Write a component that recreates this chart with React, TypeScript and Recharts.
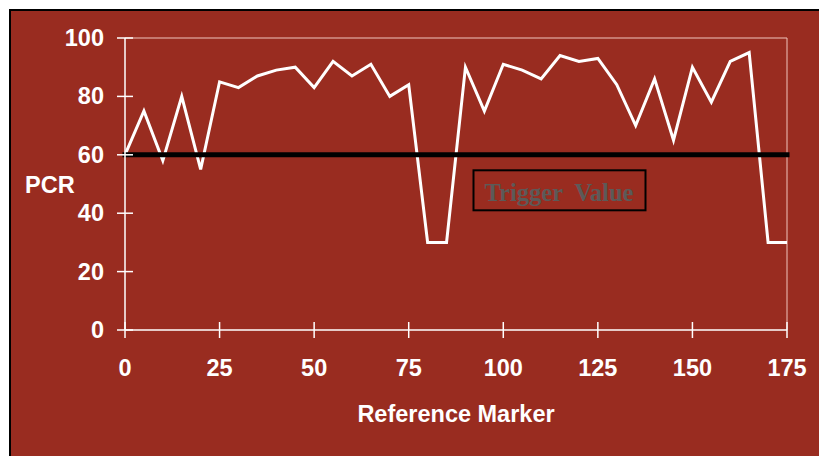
import { LineChart, Line, XAxis, YAxis, ReferenceLine } from "recharts"

// reference marker positions and the PCR reading at each
const markers = [
  0, 5, 10, 15, 20, 25, 30, 35, 40, 45, 50, 55, 60, 65, 70, 75, 80, 85,
  90, 95, 100, 105, 110, 115, 120, 125, 130, 135, 140, 145, 150, 155, 160,
  165, 170, 175,
]
const pcr = [
  60, 75, 58, 80, 55, 85, 83, 87, 89, 90, 83, 92, 87, 91, 80, 84, 30, 30,
  90, 75, 91, 89, 86, 94, 92, 93, 84, 70, 86, 65, 90, 78, 92, 95, 30, 30,
]
const xTicks = [0, 25, 50, 75, 100, 125, 150, 175]
const yTicks = [0, 20, 40, 60, 80, 100]
const triggerValue = 60

const data = markers.map((m, i) => ({ marker: m, pcr: pcr[i] }))

const BG = "#992c20"
const SANS = "'Liberation Sans', Arial, sans-serif"
const FRAME = "#f0c4bc"
const FONT_SIZE = 23.5

function XTick(props: any) {
  const { x, y, payload } = props
  return (
    <g>
      <line x1={x} y1={y - 8} x2={x} y2={y - 16} stroke="#fff" strokeWidth={1.5} />
      <text x={x} y={y + 38} textAnchor="middle" fill="#fff" fontFamily={SANS} fontWeight="bold" fontSize={FONT_SIZE}>
        {payload.value}
      </text>
    </g>
  )
}

function YTick(props: any) {
  const { x, y, payload } = props
  return (
    <g>
      <line x1={x + 21} y1={y} x2={x + 29} y2={y} stroke="#fff" strokeWidth={1.5} />
      <text x={x} y={y + 8} textAnchor="end" fill="#fff" fontFamily={SANS} fontWeight="bold" fontSize={FONT_SIZE}>
        {payload.value}
      </text>
    </g>
  )
}

function TriggerBox(props: any) {
  const { x, y } = props.viewBox
  return (
    <g>
      <rect x={x + 348.5} y={y + 15.5} width={172} height={40} fill="none" stroke="#000" strokeWidth={2} />
      <text
        x={x + 434}
        y={y + 45.7}
        textAnchor="middle"
        fill="#5c5a58"
        fontFamily="'Liberation Serif', 'Times New Roman', serif"
        fontWeight="bold"
        fontSize={24.5}
        style={{ whiteSpace: "pre" }}
      >
        {"Trigger  Value"}
      </text>
    </g>
  )
}

export default function App() {
  return (
    <div
      style={{
        position: "absolute",
        left: 9,
        top: 9,
        width: 810,
        height: 447,
        boxSizing: "border-box",
        borderLeft: "2px solid #000",
        borderTop: "2px solid #000",
        background: BG,
      }}
    >
      <LineChart width={808} height={445} data={data} margin={{ top: 27, right: 32, left: 0, bottom: 66 }}>
        <XAxis
          dataKey="marker"
          type="number"
          domain={[0, 175]}
          ticks={xTicks}
          interval={0}
          height={60}
          tickSize={8}
          tickMargin={0}
          tick={<XTick />}
          axisLine={{ stroke: "#fff", strokeWidth: 1.5 }}
          tickLine={{ stroke: "#fff", strokeWidth: 1.5 }}
          label={{
            content: (p: any) => (
              <text
                x={p.viewBox.x + p.viewBox.width / 2}
                y={p.viewBox.y + 92}
                textAnchor="middle"
                fill="#fff"
                fontFamily={SANS}
                fontWeight="bold"
                fontSize={FONT_SIZE}
              >
                Reference Marker
              </text>
            ),
          }}
        />
        <YAxis
          type="number"
          domain={[0, 100]}
          ticks={yTicks}
          interval={0}
          width={114}
          tickSize={8}
          tickMargin={13}
          tick={<YTick />}
          axisLine={{ stroke: "#fff", strokeWidth: 1.5 }}
          tickLine={{ stroke: "#fff", strokeWidth: 1.5 }}
          label={{
            content: (p: any) => (
              <text
                x={p.viewBox.x + 14}
                y={p.viewBox.y + p.viewBox.height / 2 + 8.5}
                fill="#fff"
                fontFamily={SANS}
                fontWeight="bold"
                fontSize={FONT_SIZE}
              >
                PCR
              </text>
            ),
          }}
        />
        <ReferenceLine y={100} stroke={FRAME} strokeWidth={1} />
        <ReferenceLine x={175} stroke={FRAME} strokeWidth={1} />
        <Line
          type="linear"
          dataKey="pcr"
          stroke="#fff"
          strokeWidth={3}
          dot={false}
          activeDot={false}
          isAnimationActive={false}
        />
        <ReferenceLine
          y={triggerValue}
          stroke="#000"
          strokeWidth={5}
          strokeLinecap="square"
          label={{ content: (p: any) => <TriggerBox {...p} /> }}
        />
      </LineChart>
    </div>
  )
}
